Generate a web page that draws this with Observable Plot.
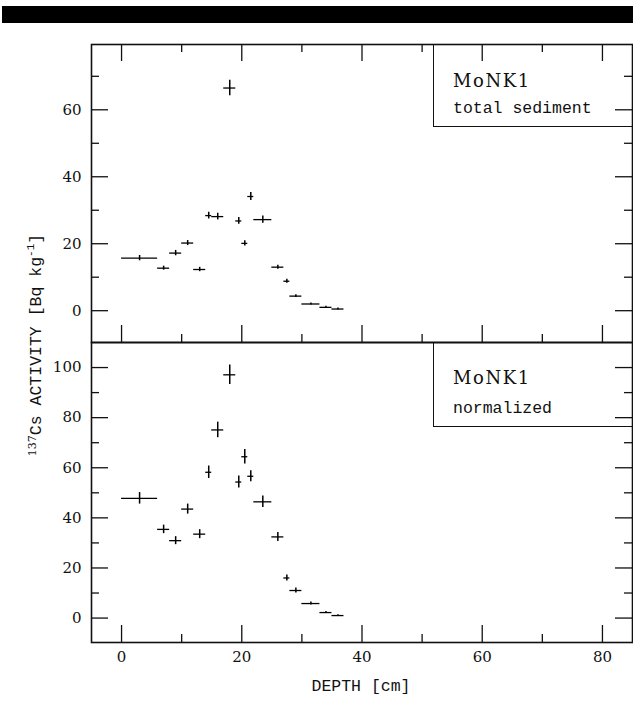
<!DOCTYPE html>
<html>
<head>
<meta charset="utf-8">
<script src="https://cdn.jsdelivr.net/npm/d3@7"></script>
<script src="https://cdn.jsdelivr.net/npm/@observablehq/plot@0.6"></script>
<style>
  body { margin: 0; background: #fff; }
  #wrap { position: relative; width: 633px; height: 702px; overflow: hidden; background: #fff; }
  .mono { font-family: "Liberation Mono", "DejaVu Sans Mono", monospace; color: #111; }
  .serif { font-family: "DejaVu Serif", serif; color: #111; }
  .legend { position: absolute; border-left: 1.5px solid #111; border-bottom: 1.5px solid #111; box-sizing: border-box; }
</style>
</head>
<body>
<div id="wrap">
  <div style="position:absolute;left:2px;top:6px;width:631px;height:17px;background:#000"></div>
  <div id="p1" style="position:absolute;left:0;top:40px"></div>
  <div id="p2" style="position:absolute;left:0;top:338px"></div>
  <div id="leg1" class="legend" style="left:433px;top:44px;width:199px;height:83px"></div>
  <div id="leg2" class="legend" style="left:433px;top:342px;width:199px;height:85px"></div>
  <div id="ylab" class="mono" style="position:absolute;left:-119px;top:333px;width:300px;height:24px;line-height:24px;text-align:center;font-size:16.5px;transform:rotate(-90deg);white-space:nowrap"></div>
  <div id="xlab" class="mono" style="position:absolute;left:211px;top:677px;width:300px;text-align:center;font-size:16.5px;white-space:nowrap"></div>
</div>
<script>
// ---- data ----
const depthFrom = [0, 6, 8, 10, 12, 14, 15, 17, 19, 20, 21, 22, 25, 27, 28, 30, 33, 35];
const depthTo   = [6, 8, 10, 12, 14, 15, 17, 19, 20, 21, 22, 25, 27, 28, 30, 33, 35, 37];
const csTotal    = [15.7, 12.7, 17.2, 20.2, 12.3, 28.4, 28.1, 66.5, 26.8, 20.1, 34.1, 27.2, 13.0, 8.8, 4.35, 2.0, 1.0, 0.5];
const csTotalErr = [0.8, 0.6, 0.8, 0.75, 0.65, 1.0, 1.0, 2.3, 1.0, 0.8, 1.2, 1.1, 0.6, 0.6, 0.4, 0.3, 0.3, 0.3];
const csNorm     = [47.8, 35.4, 30.9, 43.5, 33.5, 58.2, 75.1, 97.1, 54.3, 64.4, 56.6, 46.4, 32.4, 16.0, 11.0, 5.8, 2.2, 1.0];
const csNormErr  = [2.3, 1.7, 1.6, 2.0, 1.8, 2.5, 3.1, 3.9, 2.4, 2.9, 2.2, 2.3, 1.8, 1.2, 1.0, 0.6, 0.4, 0.3];

const xMajor = [0, 20, 40, 60, 80];
const xMinor = [10, 30, 50, 70];
const yMajorTop = [0, 20, 40, 60];
const yMinorTop = [10, 30, 50, 70];
const yMajorBottom = [0, 20, 40, 60, 80, 100];
const yMinorBottom = [10, 30, 50, 70, 90];

const stationName = "MoNK1";
const panelNames = ["total sediment", "normalized"];
const xTitle = "DEPTH [cm]";
const yTitleParts = ["137", "Cs ACTIVITY [Bq kg", "-1", "]"];

function rows(vals, errs) {
  return depthFrom.map((d, i) => ({x1: d, x2: depthTo[i], xm: (d + depthTo[i]) / 2, y: vals[i], e: errs[i]}));
}

const W = 633, ML = 91, MR = 1, MT = 4;
const FW = W - ML - MR;
const MAJ = 17, MIN = 8;
const INK = "#111";

function panel({data, yDomain, yMajor, yMinor, frameH, topTicks, bottomTicks, xLabels, marginBottom}) {
  const tk = {stroke: INK, strokeWidth: 1.3};
  const marks = [
    Plot.tickY(yMajor, {y: d => d, insetRight: FW - MAJ, ...tk}),
    Plot.tickY(yMinor, {y: d => d, insetRight: FW - MIN, ...tk}),
    Plot.tickY(yMajor, {y: d => d, insetLeft: FW - MAJ, ...tk}),
    Plot.tickY(yMinor, {y: d => d, insetLeft: FW - MIN, ...tk}),
  ];
  if (topTicks) {
    marks.push(Plot.tickX(xMajor, {x: d => d, insetBottom: frameH - MAJ, ...tk}));
    marks.push(Plot.tickX(xMinor, {x: d => d, insetBottom: frameH - MIN, ...tk}));
  }
  if (bottomTicks) {
    marks.push(Plot.tickX(xMajor, {x: d => d, insetTop: frameH - MAJ, ...tk}));
    marks.push(Plot.tickX(xMinor, {x: d => d, insetTop: frameH - MIN, ...tk}));
  }
  marks.push(
    Plot.ruleY(data, {y: "y", x1: "x1", x2: "x2", stroke: "#000", strokeWidth: 1.3}),
    Plot.ruleX(data, {x: "xm", y1: d => d.y - d.e, y2: d => d.y + d.e, stroke: "#000", strokeWidth: 1.5}),
    Plot.axisY(yMajor, {anchor: "left", tickSize: 0, tickPadding: 10, label: null, fill: INK}),
    Plot.frame({stroke: INK, strokeWidth: 1.6})
  );
  if (xLabels) {
    marks.push(Plot.axisX(xMajor, {anchor: "bottom", tickSize: 0, tickPadding: 9, label: null, fill: INK}));
  }
  return Plot.plot({
    width: W,
    height: MT + frameH + marginBottom,
    marginLeft: ML, marginRight: MR, marginTop: MT, marginBottom: marginBottom,
    x: {domain: [-5, 85], axis: null},
    y: {domain: yDomain, axis: null},
    style: {background: "transparent", overflow: "visible", fontFamily: "'DejaVu Serif', serif", fontSize: "15px", color: INK},
    marks
  });
}

document.getElementById("p1").append(panel({
  data: rows(csTotal, csTotalErr), yDomain: [-9.5, 79.5], yMajor: yMajorTop, yMinor: yMinorTop,
  frameH: 298, topTicks: true, bottomTicks: true, xLabels: false, marginBottom: 6
}));
document.getElementById("p2").append(panel({
  data: rows(csNorm, csNormErr), yDomain: [-9.75, 110], yMajor: yMajorBottom, yMinor: yMinorBottom,
  frameH: 300, topTicks: false, bottomTicks: true, xLabels: true, marginBottom: 60
}));

// legends
const legendPos = {leg1: [26, 55], leg2: [25, 57]};
[["leg1", panelNames[0]], ["leg2", panelNames[1]]].forEach(([id, name]) => {
  const el = document.getElementById(id);
  const [t1, t2] = legendPos[id];
  el.innerHTML =
    `<div class="serif" style="position:absolute;left:19px;top:${t1}px;font-size:18px;letter-spacing:1.6px;line-height:22px;white-space:nowrap">${stationName}</div>` +
    `<div class="mono" style="position:absolute;left:19px;top:${t2}px;font-size:16.5px;line-height:20px;white-space:nowrap">${name}</div>`;
});

document.getElementById("ylab").innerHTML =
  `<sup class="serif" style="font-size:11px;vertical-align:5px">${yTitleParts[0]}</sup>${yTitleParts[1]}<sup style="font-size:11px;vertical-align:7px">${yTitleParts[2]}</sup>${yTitleParts[3]}`;
document.getElementById("xlab").textContent = xTitle;
</script>
</body>
</html>
